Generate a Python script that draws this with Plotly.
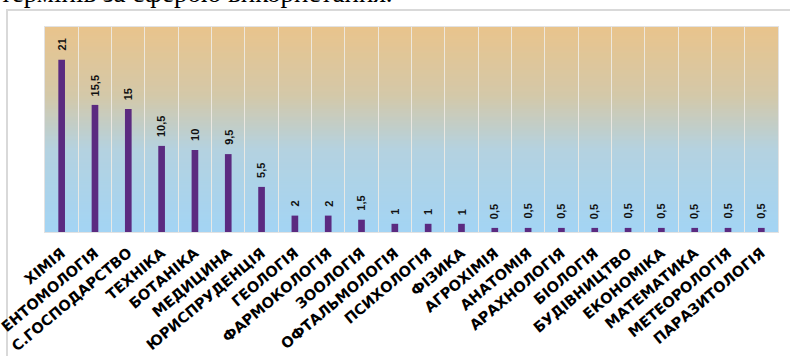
import plotly.graph_objects as go

categories = ["ХІМІЯ", "ЕНТОМОЛОГІЯ", "С.ГОСПОДАРСТВО", "ТЕХНІКА", "БОТАНІКА",
              "МЕДИЦИНА", "ЮРИСПРУДЕНЦІЯ", "ГЕОЛОГІЯ", "ФАРМОКОЛОГІЯ", "ЗООЛОГІЯ",
              "ОФТАЛЬМОЛОГІЯ", "ПСИХОЛОГІЯ", "ФІЗИКА", "АГРОХІМІЯ", "АНАТОМІЯ",
              "АРАХНОЛОГІЯ", "БІОЛОГІЯ", "БУДІВНИЦТВО", "ЕКОНОМІКА", "МАТЕМАТИКА",
              "МЕТЕОРОЛОГІЯ", "ПАРАЗИТОЛОГІЯ"]
values = [21, 15.5, 15, 10.5, 10, 9.5, 5.5, 2, 2, 1.5, 1, 1, 1,
          0.5, 0.5, 0.5, 0.5, 0.5, 0.5, 0.5, 0.5, 0.5]
value_labels = [("%g" % v).replace(".", ",") for v in values]
caption = "термінів за сферою використання."

W, H = 790, 356
L, R, T, B = 45, 12, 27, 124
pw, ph = W - L - R, H - T - B

def px_to_paper_x(p):
    return (p - L) / pw

def px_to_paper_y(p):
    return (H - B - p) / ph

fig = go.Figure()
fig.add_trace(go.Bar(
    x=categories, y=values,
    marker=dict(color="#5B2A80", line=dict(width=0)),
    width=0.2,
    hoverinfo="x+y",
))

# gradient background (style only)
stops = [(0.0, (233, 196, 140)), (0.33, (212, 200, 168)), (0.6, (180, 210, 224)), (1.0, (163, 212, 244))]
def col(t):
    for (t0, c0), (t1, c1) in zip(stops[:-1], stops[1:]):
        if t0 <= t <= t1:
            f = (t - t0) / (t1 - t0) if t1 > t0 else 0
            return "rgb(%d,%d,%d)" % tuple(round(a + (b - a) * f) for a, b in zip(c0, c1))
    return "rgb(%d,%d,%d)" % stops[-1][1]

shapes = []
N = 100
for i in range(N):
    t = (i + 0.5) / N
    shapes.append(dict(type="rect", xref="paper", yref="paper",
                       x0=0, x1=1, y0=0, y1=1 - i / N,
                       fillcolor=col(t), line=dict(width=0), layer="below"))
# outer chart frame
shapes.append(dict(type="rect", xref="paper", yref="paper",
                   x0=px_to_paper_x(7), x1=px_to_paper_x(W + 20),
                   y0=px_to_paper_y(H + 20), y1=px_to_paper_y(10),
                   fillcolor="rgba(0,0,0,0)", line=dict(color="#D9D9D9", width=2), layer="below"))

annotations = []
for c, v, lab in zip(categories, values, value_labels):
    annotations.append(dict(x=c, y=v, xref="x", yref="y", text=lab, textangle=-90,
                            showarrow=False, xanchor="center", yanchor="bottom", yshift=7,
                            font=dict(family="Liberation Sans, Arial, sans-serif", size=11,
                                      color="#111111", weight="bold")))
annotations.append(dict(x=px_to_paper_x(-2), y=px_to_paper_y(10), xref="paper", yref="paper",
                        text=caption, showarrow=False, xanchor="left", yanchor="bottom",
                        font=dict(family="Liberation Serif, Times New Roman, serif", size=27, color="#000000")))

fig.update_layout(
    width=W, height=H,
    margin=dict(l=L, r=R, t=T, b=B, autoexpand=False),
    paper_bgcolor="white", plot_bgcolor="rgba(0,0,0,0)",
    template="none",
    showlegend=False,
    shapes=shapes, annotations=annotations,
    bargap=0.8,
)
fig.update_xaxes(type="category", tickson="boundaries", showgrid=True,
                 gridcolor="rgba(238,235,228,0.9)", gridwidth=1,
                 ticks="", tickangle=-40, automargin=False, ticklabelstandoff=6,
                 showline=True, linecolor="#E2E2E2", mirror=True,
                 tickfont=dict(family="DejaVu Sans, sans-serif", size=14.5, color="#000000", weight="bold"))
fig.update_yaxes(range=[0, 25], showgrid=False, zeroline=False, showticklabels=False,
                 ticks="", automargin=False, showline=True, linecolor="#E2E2E2", mirror=True)

fig.write_html("out.html")
